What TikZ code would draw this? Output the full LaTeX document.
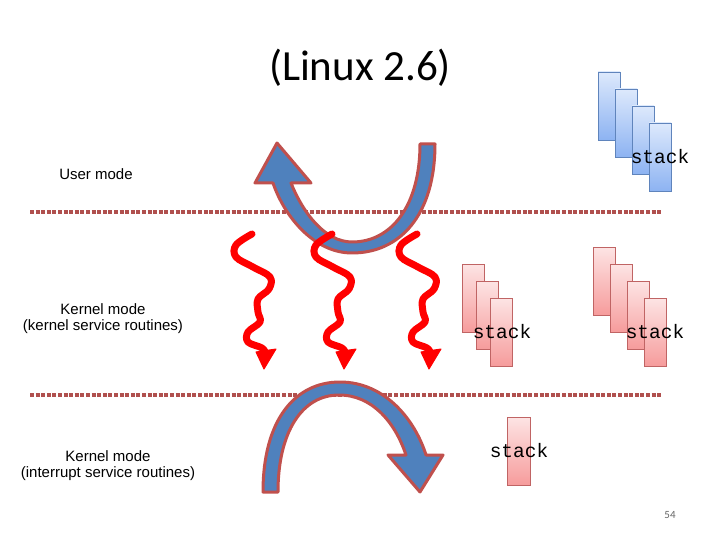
\documentclass[tikz,border=0pt]{standalone}
\usepackage{fontspec}
\setmainfont{Carlito}
\newfontfamily\arialfont{Liberation Sans}
\newfontfamily\courfont{Liberation Mono}
\usetikzlibrary{arrows.meta}

\definecolor{arrowblue}{HTML}{4F81BD}
\definecolor{arrowrim}{HTML}{C0504D}
\definecolor{sepred}{HTML}{B0504E}
\definecolor{bluetop}{HTML}{DDE9FC}
\definecolor{bluebot}{HTML}{8DB3F2}
\definecolor{blueedge}{HTML}{5F84BC}
\definecolor{redtop}{HTML}{FDE4E4}
\definecolor{redbot}{HTML}{F69C9C}
\definecolor{rededge}{HTML}{C06464}

\tikzset{
	sepline/.style = {draw=sepred, line width=3.5pt, dash pattern=on 4pt off 1.6pt},
	bigarrow/.style = {fill=arrowblue, draw=arrowrim, line width=3pt, line join=round},
	squiggle/.style = {draw=red, line width=7pt, line cap=round, line join=round},
	squigglehead/.style = {fill=red, draw=red, line width=1pt, line join=round},
	bluestack/.style = {top color=bluetop, bottom color=bluebot, draw=blueedge, line width=0.8pt},
	redstack/.style = {top color=redtop, bottom color=redbot, draw=rededge, line width=0.8pt},
	stacklabel/.style = {font=\courfont\fontsize{19.5}{22}\selectfont, inner sep=0pt},
	modelabel/.style = {font=\arialfont\fontsize{15}{16}\selectfont, align=center, inner sep=0pt}
}

\begin{document}
\begin{tikzpicture}[x=1pt, y=-1pt]
		\useasboundingbox [fill=white] (0,0) rectangle (720,540);
		
		% title
		\node (title) at (360,68) {\fontsize{43}{48}\selectfont (Linux 2.6)};
		
		% mode labels
		\node [modelabel] (user) at (96,174) {User mode};
		\node [modelabel] (kernel) at (103,319) {Kernel mode\\(kernel service routines)};
		\node [modelabel] (interrupt) at (108,466) {Kernel mode\\(interrupt service routines)};
		
		% separators
		\draw [sepline] (30,212) -- (662,212);
		\draw [sepline] (30,395) -- (662,395);
		
		% upper curved arrow
		\draw [bigarrow] (435,144) .. controls (435,215) and (400,253) .. (352,253)
			.. controls (315,253) and (285,218) .. (273,183)
			-- (255,183) -- (277,143) -- (311,183) -- (291,183)
			.. controls (303,213) and (325,242) .. (352,242)
			.. controls (392,242) and (420,205) .. (420,144) -- cycle;
		
		% lower curved arrow
		\draw [bigarrow] (263,492) .. controls (263,420) and (295,382) .. (340,382)
			.. controls (385,382) and (415,420) .. (426,455)
			-- (443,455) -- (420,492) -- (388,455) -- (406,455)
			.. controls (395,422) and (372,395) .. (339,395)
			.. controls (302,395) and (278,432) .. (278,492) -- cycle;
		
		% squiggly arrows
		\foreach \dx in {0,80,165} {
			\begin{scope}[shift={(\dx,0)}]
				\draw [squiggle] plot [smooth, tension=0.6] coordinates
					{(252,234) (236,245) (236,257) (253,267) (270,277) (269,289) (258,299)
					 (258,312) (260,322) (248,332) (248,342) (262,348) (266,354)};
				\draw [squigglehead] (256,352) -- (276,349) -- (264,369) -- cycle;
			\end{scope}
		}
		
		% user stack
		\foreach \i in {0,...,3}
			\draw [bluestack] (598+17*\i,72+17*\i) rectangle ++(22,68);
		\node [stacklabel] (ustack) at (660,157) {stack};
		
		% kernel stacks
		\foreach \i in {0,...,2}
			\draw [redstack] (462+14*\i,264+17*\i) rectangle ++(22,68);
		\node [stacklabel] (kstacka) at (502,332) {stack};
		\foreach \i in {0,...,3}
			\draw [redstack] (593+17*\i,247+17*\i) rectangle ++(22,68);
		\node [stacklabel] (kstackb) at (655,332) {stack};
		
		% interrupt stack
		\draw [redstack] (507,417) rectangle ++(23,68);
		\node [stacklabel] (istack) at (519,451) {stack};
		
		% page number
		\node [text=gray!80!black] (page) at (670,515) {\fontsize{11}{13}\selectfont 54};
		
\end{tikzpicture}
\end{document}
